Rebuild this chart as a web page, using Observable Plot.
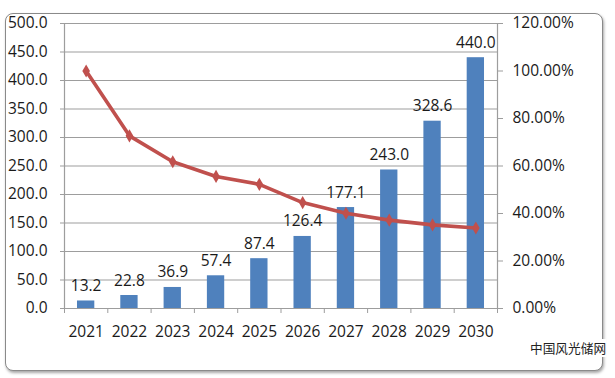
<!DOCTYPE html>
<html>
<head>
<meta charset="utf-8">
<script src="https://cdn.jsdelivr.net/npm/d3@7"></script>
<script src="https://cdn.jsdelivr.net/npm/@observablehq/plot@0.6"></script>
<style>
  html, body { margin: 0; padding: 0; background: #fff; }
  #wrap { position: relative; width: 615px; height: 378px; overflow: hidden; background: #fff; }
  #frame { position: absolute; left: 5px; top: 13px; width: 596px; height: 356px;
           border: 1.5px solid #8a8a8a; border-radius: 8px;
           box-shadow: 1px 2px 3px rgba(0,0,0,0.35); background: #fff; }
  #chart { position: absolute; left: 0; top: 0; }
  #mark { position: absolute; left: 530px; top: 339px; font-family: "Noto Sans CJK SC", sans-serif;
          font-size: 12.7px; color: #222; white-space: nowrap; background: #fff; line-height: 18px; }
</style>
</head>
<body>
<div id="wrap">
  <div id="frame"></div>
  <div id="chart"></div>
  <div id="mark">中国风光储网</div>
</div>
<script>
const years = [2021, 2022, 2023, 2024, 2025, 2026, 2027, 2028, 2029, 2030];
const values = [13.2, 22.8, 36.9, 57.4, 87.4, 126.4, 177.1, 243.0, 328.6, 440.0];
const growth = [100, 72.7, 61.8, 55.6, 52.3, 44.6, 40.1, 37.2, 35.2, 33.9]; // percent
const leftTicks = [0, 50, 100, 150, 200, 250, 300, 350, 400, 450, 500];
const rightTicks = [0, 20, 40, 60, 80, 100, 120]; // percent

const leftMax = 500, rightMax = 120;
const toLeft = p => p * leftMax / rightMax;

const data = years.map((year, i) => ({year, value: values[i], pct: growth[i]}));
const boundaries = [...years.map(y => y - 0.5), years[years.length - 1] + 0.5];
const half = 0.2;

const barColor = "#4f81bd";
const lineColor = "#c0504d";
const gridColor = "#9d9d9d";

const chart = Plot.plot({
  width: 615,
  height: 378,
  marginLeft: 64,
  marginRight: 118,
  marginTop: 23,
  marginBottom: 70,
  style: {background: "transparent", fontFamily: "'Open Sans', sans-serif", fontSize: "15.5px", color: "#1a1a1a"},
  x: {type: "linear", domain: [years[0] - 0.5, years[years.length - 1] + 0.5], label: null},
  y: {domain: [0, leftMax], label: null},
  marks: [
    Plot.gridY(leftTicks, {stroke: gridColor, strokeOpacity: 1, strokeWidth: 1.2}),
    Plot.ruleX([boundaries[0], boundaries[boundaries.length - 1]], {stroke: gridColor, strokeWidth: 1.2}),
    Plot.rectY(data, {x1: d => d.year - half, x2: d => d.year + half, y1: 0, y2: "value", fill: barColor}),
    Plot.text(data, {x: "year", y: "value", text: d => d.value.toFixed(1), lineAnchor: "bottom", dy: -10, fill: "#1a1a1a"}),
    Plot.line(data, {x: "year", y: d => toLeft(d.pct), stroke: lineColor, strokeWidth: 3.6}),
    Plot.dot(data, {x: "year", y: d => toLeft(d.pct), symbol: "diamond", r: 4, fill: lineColor}),
    Plot.axisY(leftTicks, {anchor: "left", label: null, tickSize: 4, tickPadding: 13, stroke: gridColor, tickFormat: d => d.toFixed(1)}),
    Plot.axisY(rightTicks.map(toLeft), {anchor: "right", label: null, tickSize: 5, tickPadding: 10, stroke: gridColor,
      tickFormat: d => (d * rightMax / leftMax).toFixed(2) + "%"}),
    Plot.axisX(boundaries, {anchor: "bottom", label: null, tickSize: 5, stroke: gridColor, tickFormat: () => ""}),
    Plot.axisX(years, {anchor: "bottom", label: null, tickSize: 0, tickPadding: 17, tickFormat: d => String(d)})
  ]
});
document.getElementById("chart").appendChild(chart);
</script>
</body>
</html>
